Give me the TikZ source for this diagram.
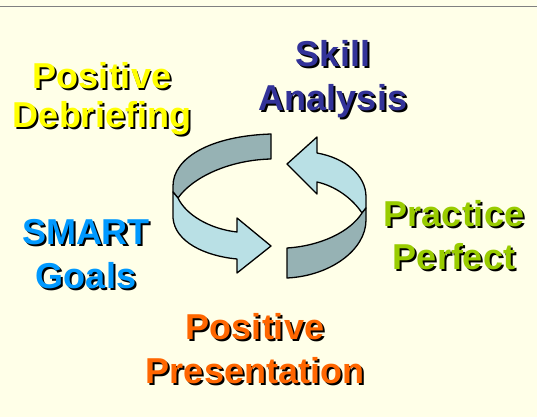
\documentclass[tikz,border=0pt]{standalone}
\usepackage{fontspec}
\setmainfont{Liberation Sans}

\definecolor{cream}{RGB}{255,255,232}
\definecolor{rulegray}{RGB}{128,128,128}
\definecolor{debriefyellow}{RGB}{255,255,0}
\definecolor{skillblue}{RGB}{51,51,153}
\definecolor{smartblue}{RGB}{0,153,255}
\definecolor{practicegreen}{RGB}{153,204,0}
\definecolor{presentorange}{RGB}{255,102,0}
\definecolor{bandback}{RGB}{150,178,180}
\definecolor{bandfront}{RGB}{185,224,229}

\tikzset{
  lbl/.style={font=\fontsize{36}{44}\selectfont\bfseries, align=center, inner sep=0pt},
  band/.style={draw=black, line width=1.3pt, line join=round},
}

% one line of text with a black drop shadow
\newcommand{\shd}[1]{\rlap{\kern2pt\raisebox{-2pt}[0pt][0pt]{\textcolor{black}{#1}}}#1}

\begin{document}
\begin{tikzpicture}[x=1pt,y=-1pt]
\fill[cream] (0,0) rectangle (537,417);
\useasboundingbox (0,0) rectangle (537,417);
\draw[rulegray, line width=1.3pt] (0,6.5) -- (537,6.5);
%
\node[lbl, text=debriefyellow] (debrief) at (102,99) {\shd{Positive}\\[-5pt]\shd{Debriefing}};
\node[lbl, text=skillblue] (skill) at (333,79) {\shd{Skill}\\\shd{Analysis}};
\node[lbl, text=smartblue] (smart) at (86,254) {\shd{SMART}\\\shd{Goals}};
\node[lbl, text=practicegreen] (practice) at (454,235) {\shd{Practice}\\[-1pt]\shd{Perfect}};
\node[lbl, text=presentorange] (present) at (255,349) {\shd{Positive}\\\shd{Presentation}};
%
% left ribbon arrow
\filldraw[band, fill=bandback] (271,134) .. controls (210,136) and (173,158) .. (173,186)
  -- (173,192) -- (178,198) .. controls (192,178) and (228,160) .. (271,159) -- cycle;
\filldraw[band, fill=bandfront] (173,192) -- (173,218) .. controls (175,242) and (205,256) .. (237,259)
  -- (237,273) -- (271,246) -- (237,218) -- (237,232) .. controls (210,229) and (186,215) .. (178,198) -- cycle;
% right ribbon arrow
\filldraw[band, fill=bandfront] (317,153) .. controls (345,158) and (366,175) .. (366,197)
  -- (366,208) -- (362,213) .. controls (352,198) and (335,186) .. (317,182)
  -- (317,194) -- (287,164) -- (317,137) -- cycle;
\filldraw[band, fill=bandback] (362,213) -- (366,208) -- (366,220) .. controls (366,250) and (330,276) .. (287,278)
  -- (287,248) .. controls (320,246) and (350,232) .. (362,213) -- cycle;
\end{tikzpicture}
\end{document}
